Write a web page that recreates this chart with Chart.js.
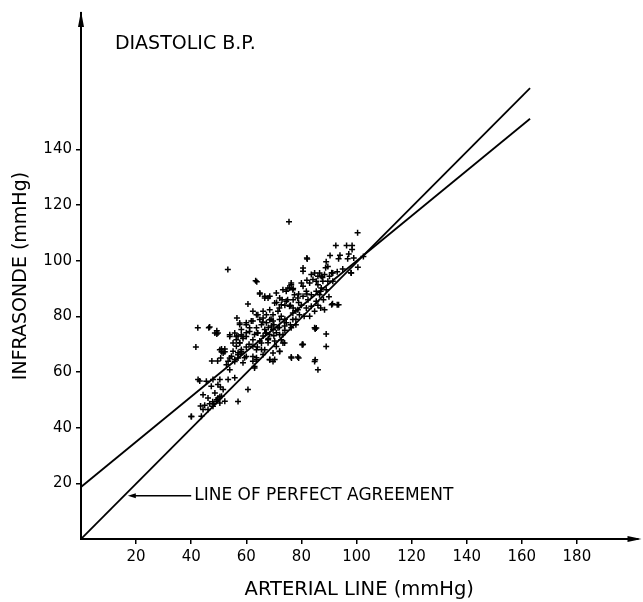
<!DOCTYPE html>
<html>
<head>
<meta charset="utf-8">
<script src="https://cdn.jsdelivr.net/npm/chart.js@4.4.0/dist/chart.umd.min.js"></script>
<style>
  html, body { margin: 0; padding: 0; background: #fff; }
</style>
</head>
<body>
<canvas id="myChart" width="643" height="602"></canvas>
<script>
// arterial line readings (x) and infrasonde readings (y), mmHg
const arterial = [
  75.5, 53.3, 82, 63.8, 42.4, 46.4, 49.3, 49.3, 41.7, 40, 57, 85, 80.4, 76.4, 79, 85, 86, 89, 89, 91.3,
  93, 100.4, 92.5, 96.4, 98.4, 98.4, 97.2, 90.4, 89, 93.5, 96.8, 88.8, 91, 87.6, 98, 100.5, 102.5, 87, 89.6,
  51, 52.2, 51, 52.2, 47.5, 49.6, 50.7, 53.4, 54.6, 55.8, 55.2, 57, 58.2, 56.4, 57.6, 58.8, 57, 60, 58.2,
  57.6, 60, 61.8, 61.2, 59.4, 58.8, 42.5, 45.5, 47.9, 50.4, 53.4, 47.3, 49.7, 51.6, 48.6, 46.1, 49.7, 51,
  49.2, 46.7, 44.9, 47.9, 50.4, 52.2, 44.3, 46.1, 43.7, 60.6, 55.8, 49.3, 47.8, 50.4, 48.2, 43.1, 44.3,
  43.4, 50.6, 56.6, 57.6, 60, 61.2, 58.8, 55.8, 54, 55.2, 60.6, 64.2, 66.1, 67.3, 68.5, 65.5, 64.2, 67.3,
  69.7, 72.1, 62.4, 65.5, 63.7, 62.4, 60, 58.2, 57, 54, 52.8, 54, 63, 63.7, 68.5, 69.7, 73.3, 72.7, 70.9,
  67.9, 66.7, 63, 69.7, 72.1, 73.9, 76.3, 78.7, 80.3, 84.8, 85.4, 40.1, 46.7, 48.6, 49.7, 50.4, 51.6,
  55.8, 57, 58.2, 54, 56.4, 58.2, 60, 56.4, 57.6, 80.6, 80.6, 63.4, 83.6, 84.8, 84.2, 85.4, 83, 76.3,
  75.7, 76.9, 74.5, 73.3, 77.5, 78.7, 64.9, 66.7, 68.5, 70.9, 72.1, 70.3, 72.7, 74.5, 75.7, 80.6, 81.8,
  80.6, 82.4, 83.6, 85.4, 85.4, 62.4, 63.7, 66.1, 68.5, 69.7, 71.5, 72.7, 76.9, 78.7, 79.3, 81.8, 83.6,
  84.8, 91.4, 90.2, 88.4, 87.2, 86, 86.6, 87.8, 89.6, 91.4, 86, 87.2, 89, 86.6, 91, 93.5, 88.4, 98.1,
  62.4, 64.9, 67.3, 69.7, 72.1, 74.5, 76.9, 63.7, 66.7, 69.1, 71.5, 73.9, 76.3, 63, 66.1, 68.5, 70.9,
  73.3, 64.9, 67.9, 70.3, 62.4, 65.5, 63.7, 62.4, 66.1, 68.5, 70.3, 72.1, 80.6, 84.8, 64.9, 66.7, 67.9,
  82.1, 75.1, 76.3, 72, 74, 76, 77, 74, 78, 71, 73, 75, 77, 79, 80, 78, 69, 70, 72, 68, 67, 66, 64, 61,
  60, 64, 68, 70, 74, 76, 78, 81, 83, 87, 88, 90, 86, 82, 79, 77, 80, 82, 94, 95, 99, 93
];
const infrasonde = [
  114, 96.8, 101, 92.4, 75.9, 75.9, 74.8, 73.7, 69, 44, 49.4, 75.5, 70, 65, 65, 64.4, 60.8, 73.7, 69.2, 84.5,
  84.2, 110, 105.5, 105.5, 105.5, 104, 102.4, 101.9, 99.6, 100.7, 100.7, 97.5, 95.7, 94, 95.7, 97.6, 101.5, 89, 97.9,
  68.3, 68.3, 67.3, 67.3, 64, 64, 65, 63.9, 65.7, 64.5, 67.5, 66.9, 68.1, 69.3, 70.5, 72, 72.9, 74.1, 75.3,
  77.1, 77.7, 78.3, 75.9, 65.1, 63.3, 57.3, 56.7, 57.3, 57.3, 57.3, 54.9, 55.5, 53.7, 52.5, 50.7, 50.7, 51.3,
  49.5, 48.6, 48.1, 47.7, 48.9, 49.5, 46.5, 46.5, 44.1, 53.7, 57.9, 50, 49.3, 51.1, 48.6, 56.8, 51.8,
  47.8, 54.6, 79.4, 77.6, 77, 74.6, 72.8, 74, 72.8, 70.4, 84.4, 80.6, 79.4, 80.6, 78.8, 77, 74, 74,
  75.2, 73.4, 71.6, 70.4, 68, 65.6, 65.6, 66.8, 65, 65, 62.6, 60.8, 62, 64.4, 64.4, 66.8, 70.4, 71.6, 69.2,
  71.6, 68, 61.4, 63.8, 67.4, 70.4, 65.4, 65.4, 69.8, 63.8, 75.8, 44, 76.2, 74, 74, 68, 66.8,
  63.8, 66.2, 67.4, 73.4, 72.8, 73.4, 72.8, 71.6, 70.4, 97.4, 96.2, 92.8, 95, 95.6, 93.2, 92.6, 92, 91.4,
  90.2, 89.6, 89, 89.6, 87.8, 86.6, 88.4, 87.2, 87.2, 88.4, 86.6, 84.8, 84.2, 85.4, 83.6, 90.8, 89,
  87.2, 86, 87.8, 89, 85.4, 81.8, 80.6, 81.8, 82.4, 80.6, 81.8, 80, 81.2, 82.4, 80.6, 83, 83.6,
  81.8, 95.6, 94.4, 95, 94.4, 94.4, 95.6, 92.6, 92.6, 92.6, 91.4, 90.2, 89.6, 87.8, 84.2, 84.2, 82.4, 95.6,
  78.3, 78.9, 77.7, 78.3, 78.9, 77.7, 78.9, 75.9, 75.3, 76.5, 75.9, 76.5, 75.9, 73.5, 72.9, 73.5, 74.1,
  73.5, 71.1, 70.5, 71.1, 69.3, 68.1, 65.1, 63.9, 66.3, 64.5, 64.5, 67.5, 69.9, 75.9, 88, 86.6, 86.6,
  100.6, 90.2, 92, 83, 84, 84, 83, 79, 79, 85, 86, 86, 86, 85, 84, 82, 79, 77, 76, 76, 74, 78, 74, 70,
  69, 69, 72, 73, 75, 77, 77, 80, 80, 83, 86, 87, 84, 88, 88, 90, 92, 93, 102, 97, 101, 96
];

// straight lines: perfect agreement and fitted regression
const perfectX = [0, 163];
const perfectY = [0, 162];
const fitX = [0, 163];
const fitY = [18.7, 151];

const xTicks = [20, 40, 60, 80, 100, 120, 140, 160, 180];
const yTicks = [20, 40, 60, 80, 100, 120, 140];

const chartTitle = "DIASTOLIC B.P.";
const lineNote = "LINE OF PERFECT AGREEMENT";
const xTitle = "ARTERIAL LINE (mmHg)";
const yTitle = "INFRASONDE (mmHg)";

const FONT = "'DejaVu Sans', sans-serif";

const points = arterial.map((x, i) => ({ x: x, y: infrasonde[i] }));
const toXY = (xs, ys) => xs.map((x, i) => ({ x: x, y: ys[i] }));

// arrows on the axes, title and the note with its arrow
const decorations = {
  id: "decorations",
  afterDraw(chart) {
    const ctx = chart.ctx;
    const a = chart.chartArea;
    const xs = chart.scales.x;
    const ys = chart.scales.y;
    ctx.save();
    ctx.fillStyle = "#000";
    ctx.strokeStyle = "#000";

    // y axis arrowhead
    ctx.beginPath();
    ctx.moveTo(a.left, a.top - 2);
    ctx.lineTo(a.left - 3, a.top + 14);
    ctx.lineTo(a.left + 3, a.top + 14);
    ctx.closePath();
    ctx.fill();
    // x axis arrowhead
    ctx.beginPath();
    ctx.moveTo(a.right + 4, a.bottom);
    ctx.lineTo(a.right - 10, a.bottom - 3);
    ctx.lineTo(a.right - 10, a.bottom + 3);
    ctx.closePath();
    ctx.fill();

    // title
    ctx.font = "19px " + FONT;
    ctx.textBaseline = "middle";
    ctx.textAlign = "left";
    ctx.fillText(chartTitle, xs.getPixelForValue(12.3), ys.getPixelForValue(178));

    // note arrow
    const ny = ys.getPixelForValue(15.5);
    const x0 = xs.getPixelForValue(17);
    const x1 = xs.getPixelForValue(40);
    ctx.lineWidth = 1.5;
    ctx.beginPath();
    ctx.moveTo(x0 + 6, ny);
    ctx.lineTo(x1, ny);
    ctx.stroke();
    ctx.beginPath();
    ctx.moveTo(x0, ny);
    ctx.lineTo(x0 + 8, ny - 2.5);
    ctx.lineTo(x0 + 8, ny + 2.5);
    ctx.closePath();
    ctx.fill();
    ctx.font = "17px " + FONT;
    ctx.fillText(lineNote, x1 + 3, ny);
    ctx.restore();
  },
};

const ctx = document.getElementById("myChart").getContext("2d");
new Chart(ctx, {
  type: "scatter",
  data: {
    datasets: [
      {
        label: "readings",
        data: points,
        pointStyle: "cross",
        pointRadius: 3,
        pointBorderWidth: 1.5,
        borderColor: "#000",
        backgroundColor: "#000",
      },
      {
        type: "line",
        label: "perfect",
        data: toXY(perfectX, perfectY),
        borderColor: "#000",
        borderWidth: 1.8,
        pointRadius: 0,
        fill: false,
      },
      {
        type: "line",
        label: "fit",
        data: toXY(fitX, fitY),
        borderColor: "#000",
        borderWidth: 1.8,
        pointRadius: 0,
        fill: false,
      },
    ],
  },
  options: {
    responsive: false,
    animation: false,
    layout: { padding: { top: 13, right: 4, left: 0, bottom: 0 } },
    plugins: {
      legend: { display: false },
      tooltip: { enabled: false },
    },
    scales: {
      x: {
        type: "linear",
        min: 0,
        max: 202,
        afterBuildTicks: (s) => { s.ticks = xTicks.map((v) => ({ value: v })); },
        afterFit: (s) => { s.height = 63; },
        grid: { display: true, drawOnChartArea: false, drawTicks: true, tickLength: 5, color: "#000", lineWidth: 1.5 },
        border: { display: true, color: "#000", width: 2 },
        ticks: { color: "#000", font: { family: FONT, size: 15 }, padding: 4, maxRotation: 0, autoSkip: false },
        title: { display: true, text: xTitle, color: "#000", font: { family: FONT, size: 19.5 }, padding: { top: 0, bottom: 0 } },
      },
      y: {
        type: "linear",
        min: 0,
        max: 189,
        afterBuildTicks: (s) => { s.ticks = yTicks.map((v) => ({ value: v })); },
        afterFit: (s) => { s.width = 81; },
        grid: { display: true, drawOnChartArea: false, drawTicks: true, tickLength: 5, color: "#000", lineWidth: 1.5 },
        border: { display: true, color: "#000", width: 2 },
        ticks: { color: "#000", font: { family: FONT, size: 15 }, padding: 4, autoSkip: false },
        title: { display: true, text: yTitle, color: "#000", font: { family: FONT, size: 19 }, padding: { top: 10, bottom: 0 } },
      },
    },
  },
  plugins: [decorations],
});
</script>
</body>
</html>
